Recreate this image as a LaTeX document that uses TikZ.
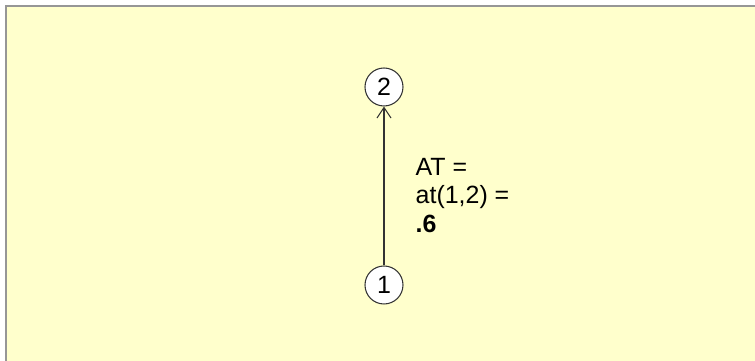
\documentclass[tikz,border=0pt]{standalone}
\usepackage{fontspec}
\setmainfont{Liberation Sans}
\usepackage{xcolor}
\usetikzlibrary{arrows.meta, positioning}
\definecolor{notebg}{RGB}{255, 255, 204}
\definecolor{frameline}{RGB}{150, 150, 150}

\begin{document}
\begin{tikzpicture}[
    state/.style={circle, draw=black!80, fill=white, line width=0.3pt, minimum size=0.38cm, inner sep=0pt, font=\fontsize{7.1}{8}\selectfont},
    link/.style={line width=0.3pt, draw=black!80, -{Straight Barb[length=3pt, width=4pt]}}
  ]
    % Draw Background
    \useasboundingbox (0,0) rectangle (7.55,3.61);
    \fill[white] (0,0) rectangle (7.55,3.61);
    \fill[notebg] (0.06,0) rectangle (7.55,3.55);
    \draw[frameline, line width=0.6pt] (0.06,0) -- (0.06,3.55) -- (7.55,3.55);
    
    % Draw States
    \node[state] (s1) at (3.84,0.76) {1};
    \node[state] (s2) at (3.84,2.74) {2};
    
    % Draw Transition
    \draw[link] (s1) -- (s2);
    \node[anchor=north west, inner sep=0pt, align=left, font=\fontsize{7.1}{8}\selectfont] (lbl) at (4.15,2.03) {AT =\\at(1,2) =\\\textbf{.6}};
\end{tikzpicture}
\end{document}
